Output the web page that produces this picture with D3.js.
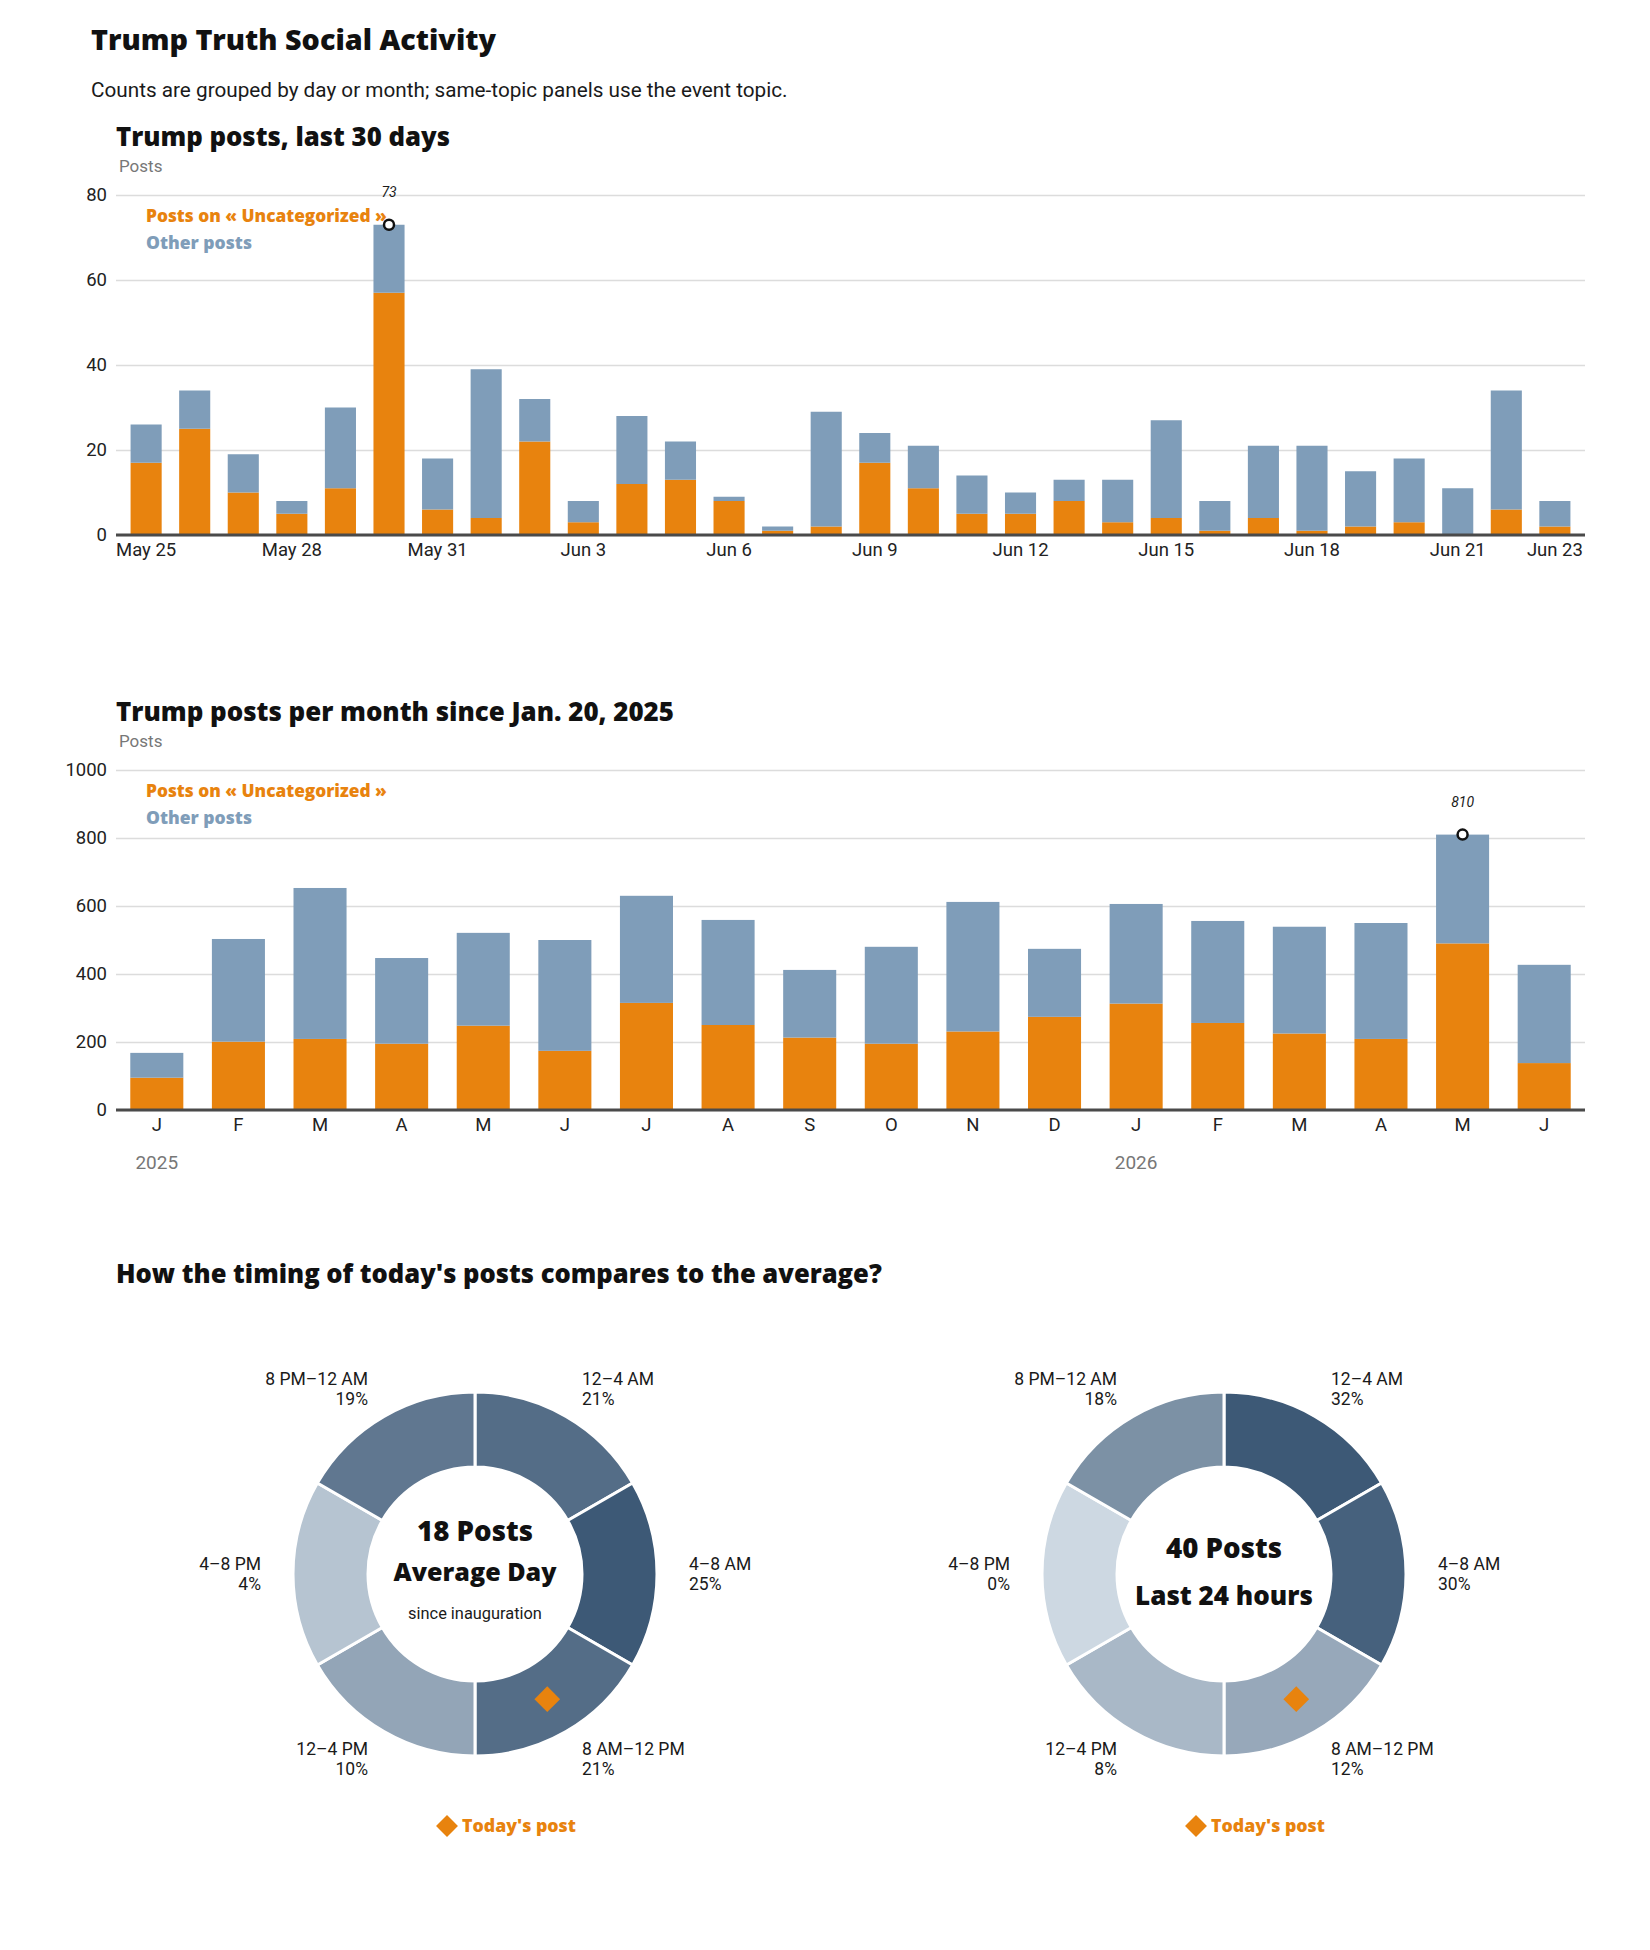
<!DOCTYPE html>
<html>
<head>
<meta charset="utf-8">
<script src="https://cdn.jsdelivr.net/npm/d3@7"></script>
<style>
  html, body { margin: 0; background: #fff; overflow: hidden; }
  svg { display: block; }
  text { font-family: Roboto, "Liberation Sans", sans-serif; fill: #1a1a1a; }
  .heavy { font-family: "Open Sans", "DejaVu Sans", sans-serif; font-weight: 800; fill: #111; }
  .tick text { font-size: 18.5px; fill: #222; }
  .grid .tick line { stroke: #dcdcdc; stroke-width: 1.5; }
</style>
</head>
<body>
<svg width="1650" height="1950"></svg>
<script>
const svg = d3.select("svg");
const width = +svg.attr("width");

// ---- last 30 days ----
const dayLabels = ["May 25","May 26","May 27","May 28","May 29","May 30","May 31","Jun 1","Jun 2","Jun 3",
  "Jun 4","Jun 5","Jun 6","Jun 7","Jun 8","Jun 9","Jun 10","Jun 11","Jun 12","Jun 13",
  "Jun 14","Jun 15","Jun 16","Jun 17","Jun 18","Jun 19","Jun 20","Jun 21","Jun 22","Jun 23"];
const dayTopic = [17,25,10,5,11,57,6,4,22,3,12,13,8,1,2,17,11,5,5,8,3,4,1,4,1,2,3,0,6,2];
const dayOther = [9,9,9,3,19,16,12,35,10,5,16,9,1,1,27,7,10,9,5,5,10,23,7,17,20,13,15,11,28,6];
const dayTicks = ["May 25","May 28","May 31","Jun 3","Jun 6","Jun 9","Jun 12","Jun 15","Jun 18","Jun 21","Jun 23"];
const dayYTicks = [0,20,40,60,80];

// ---- per month since Jan. 20, 2025 ----
const monthLabels = ["J","F","M","A","M","J","J","A","S","O","N","D","J","F","M","A","M","J"];
const monthTopic = [95,201,209,195,248,174,315,250,213,195,231,274,313,256,225,209,490,138];
const monthOther = [73,302,444,252,273,326,315,309,199,285,381,200,293,300,314,341,320,289];
const monthYTicks = [0,200,400,600,800,1000];
const yearLabels = ["2025","2026"];
const yearStart = [0,12];

// ---- timing donuts ----
const slotLabels = ["12–4 AM","4–8 AM","8 AM–12 PM","12–4 PM","4–8 PM","8 PM–12 AM"];
const avgShare = [21,25,21,10,4,19];
const lastShare = [32,30,12,8,0,18];
const todayPostHour = 10;

const orange = "#e8830e";
const blue = "#7f9db9";
const margin = { left: 116, right: 65 };
const innerWidth = width - margin.left - margin.right;
const innerHeight = 340;

// scale a text's font-size so it spans the wanted width
const fitWidth = (sel, target) => {
  const w = sel.node().getComputedTextLength();
  const fs = parseFloat(sel.style("font-size"));
  if (w > 0) sel.style("font-size", (fs * target / w).toFixed(2) + "px");
  return sel;
};

// page title
fitWidth(svg.append("text").attr("class", "heavy").attr("x", 91).attr("y", 50)
  .style("font-size", "26px").text("Trump Truth Social Activity"), 405);
fitWidth(svg.append("text").attr("x", 91).attr("y", 97).style("font-size", "19px")
  .text("Counts are grouped by day or month; same-topic panels use the event topic."), 697);

const renderBars = cfg => {
  const rows = cfg.keys.map((k, i) => ({ key: k, topic: cfg.topic[i], other: cfg.other[i] }));
  const stacked = d3.stack().keys(["topic", "other"])(rows);

  const xScale = d3.scaleBand()
    .domain(cfg.keys)
    .range([0, innerWidth])
    .paddingInner(cfg.padIn)
    .paddingOuter(cfg.padOut);
  const yScale = d3.scaleLinear()
    .domain([0, cfg.yMax])
    .range([innerHeight, 0]);

  const g = svg.append("g").attr("transform", `translate(${margin.left},${cfg.top})`);

  // titles
  fitWidth(g.append("text").attr("class", "heavy").attr("x", 0).attr("y", -49)
    .style("font-size", "22px").text(cfg.title), cfg.titleWidth);
  g.append("text").attr("x", 3).attr("y", -23).style("font-size", "17px")
    .style("fill", "#777").text("Posts");

  // y grid + labels
  const yAxisG = g.append("g").attr("class", "grid")
    .call(d3.axisLeft(yScale).tickValues(cfg.yTicks).tickFormat(d3.format("d"))
      .tickSize(-innerWidth).tickPadding(9));
  yAxisG.select(".domain").remove();

  // bars
  g.selectAll("g.layer")
    .data(stacked)
    .enter()
    .append("g")
    .attr("class", "layer")
    .attr("fill", d => (d.key === "topic" ? orange : blue))
    .selectAll("rect")
    .data(d => d)
    .enter()
    .append("rect")
    .attr("x", d => xScale(d.data.key))
    .attr("y", d => yScale(d[1]))
    .attr("width", xScale.bandwidth())
    .attr("height", d => yScale(d[0]) - yScale(d[1]));

  // x axis labels
  const xAxisG = g.append("g")
    .attr("transform", `translate(0,${innerHeight})`)
    .call(d3.axisBottom(xScale).tickValues(cfg.tickValues).tickSize(0).tickPadding(8)
      .tickFormat(cfg.tickFormat));
  xAxisG.select(".domain").remove();

  // baseline
  g.append("line")
    .attr("x1", 0).attr("x2", innerWidth)
    .attr("y1", innerHeight).attr("y2", innerHeight)
    .attr("stroke", "#4a4a4a").attr("stroke-width", 3);

  // legend
  fitWidth(g.append("text").attr("class", "heavy").attr("x", 30).attr("y", 27)
    .style("font-size", "16px").style("fill", orange)
    .text("Posts on « Uncategorized »"), 241);
  fitWidth(g.append("text").attr("class", "heavy").attr("x", 30).attr("y", 54)
    .style("font-size", "16px").style("fill", blue)
    .text("Other posts"), 106);

  // peak marker
  const totals = rows.map(d => d.topic + d.other);
  const peak = d3.maxIndex(totals);
  const px = xScale(cfg.keys[peak]) + xScale.bandwidth() / 2;
  const py = yScale(totals[peak]);
  g.append("circle").attr("cx", px).attr("cy", py).attr("r", 5)
    .attr("fill", "#fff").attr("stroke", "#111").attr("stroke-width", 2.5);
  g.append("text").attr("x", px).attr("y", py - 28)
    .attr("text-anchor", "middle").style("font-size", "14px").style("font-style", "italic")
    .text(totals[peak]);

  return { g, xScale };
};

renderBars({
  top: 195,
  title: "Trump posts, last 30 days",
  titleWidth: 334,
  keys: dayLabels,
  topic: dayTopic,
  other: dayOther,
  yMax: 80,
  yTicks: dayYTicks,
  tickValues: dayTicks,
  tickFormat: d => d,
  padIn: 0.36,
  padOut: 0.3
});

const monthChart = renderBars({
  top: 770,
  title: "Trump posts per month since Jan. 20, 2025",
  titleWidth: 558,
  keys: d3.range(monthLabels.length),
  topic: monthTopic,
  other: monthOther,
  yMax: 1000,
  yTicks: monthYTicks,
  tickValues: d3.range(monthLabels.length),
  tickFormat: i => monthLabels[i],
  padIn: 0.35,
  padOut: 0.175
});

// year labels under month letters
monthChart.g.selectAll("text.year")
  .data(yearLabels)
  .enter()
  .append("text")
  .attr("class", "year")
  .attr("x", (d, i) => monthChart.xScale(yearStart[i]) + monthChart.xScale.bandwidth() / 2)
  .attr("y", innerHeight + 59)
  .attr("text-anchor", "middle")
  .style("font-size", "19px")
  .style("fill", "#777")
  .text(d => d);

// ---- donuts ----
fitWidth(svg.append("text").attr("class", "heavy").attr("x", 116).attr("y", 1283)
  .style("font-size", "22px").text("How the timing of today's posts compares to the average?"), 766);

const rInner = 107, rOuter = 182, rLabel = 214;
const pie = d3.pie().value(1).sort(null);
const arc = d3.arc().innerRadius(rInner).outerRadius(rOuter);

const renderDonut = (cx, cy, shares, centerLines) => {
  const color = d3.scaleLinear().domain([0, d3.max(shares)]).range(["#cdd8e2", "#3d5976"]);
  const g = svg.append("g").attr("transform", `translate(${cx},${cy})`);
  const arcs = pie(shares);

  g.selectAll("path.slice")
    .data(arcs)
    .enter()
    .append("path")
    .attr("class", "slice")
    .attr("d", arc)
    .attr("fill", (d, i) => color(shares[i]))
    .attr("stroke", "#fff")
    .attr("stroke-width", 3);

  // slice labels
  const lab = g.selectAll("text.slot")
    .data(arcs)
    .enter()
    .append("text")
    .attr("class", "slot")
    .style("font-size", "17.5px")
    .attr("text-anchor", d => {
      const s = Math.sin((d.startAngle + d.endAngle) / 2);
      return s > 0.01 ? "start" : s < -0.01 ? "end" : "middle";
    })
    .attr("transform", d => {
      const a = (d.startAngle + d.endAngle) / 2;
      return `translate(${rLabel * Math.sin(a)},${-rLabel * Math.cos(a)})`;
    });
  lab.append("tspan").attr("x", 0).attr("y", -4).text((d, i) => slotLabels[i]);
  lab.append("tspan").attr("x", 0).attr("y", 16).text((d, i) => shares[i] + "%");

  // center text
  centerLines.forEach(l => {
    const t = g.append("text")
      .attr("class", l.heavy ? "heavy" : null)
      .attr("text-anchor", "middle")
      .attr("y", l.y)
      .style("font-size", "20px")
      .text(l.text);
    fitWidth(t, l.w);
  });

  // today's post marker
  const a = todayPostHour / 24 * 2 * Math.PI;
  const rm = (rInner + rOuter) / 2;
  g.append("path")
    .attr("d", d3.symbol(d3.symbolSquare, 330)())
    .attr("transform", `translate(${rm * Math.sin(a)},${-rm * Math.cos(a)}) rotate(45)`)
    .attr("fill", orange);

  // legend
  g.append("path")
    .attr("d", d3.symbol(d3.symbolSquare, 240)())
    .attr("transform", `translate(-28,252) rotate(45)`)
    .attr("fill", orange);
  fitWidth(g.append("text").attr("class", "heavy")
    .attr("x", -13).attr("y", 258)
    .style("font-size", "16px").style("fill", orange)
    .text("Today's post"), 114);
};

renderDonut(475, 1574, avgShare, [
  { text: "18 Posts", y: -33, w: 116, heavy: true },
  { text: "Average Day", y: 7, w: 163, heavy: true },
  { text: "since inauguration", y: 45, w: 134, heavy: false }
]);
renderDonut(1224, 1574, lastShare, [
  { text: "40 Posts", y: -16, w: 116, heavy: true },
  { text: "Last 24 hours", y: 31, w: 178, heavy: true }
]);
</script>
</body>
</html>
